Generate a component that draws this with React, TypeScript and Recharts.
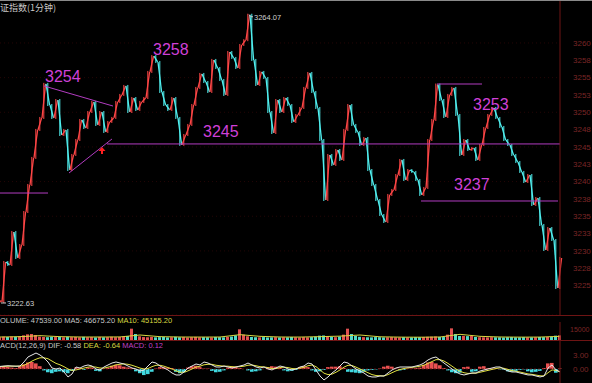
import {
  Bar,
  Cell,
  ComposedChart,
  Line,
  ReferenceDot,
  ReferenceLine,
  XAxis,
  YAxis,
  CartesianGrid,
} from "recharts";

const closes = [
  3222.63, 3228.4, 3227.97, 3232.73, 3228.98, 3230.85, 3235.61, 3239.51, 3243.41, 3247.45,
  3249.18, 3254.1, 3251.05, 3249.18, 3251.77, 3246.72, 3247.45, 3241.67, 3243.84, 3246.0,
  3248.89, 3247.73, 3250.04, 3251.49, 3248.17, 3250.04, 3247.16, 3248.6, 3249.18, 3251.49,
  3252.5, 3253.8, 3250.04, 3252.06, 3250.33, 3251.49, 3252.06, 3255.82, 3258.1, 3257.26,
  3252.93, 3251.05, 3250.33, 3252.06, 3249.18, 3245.3, 3246.72, 3248.17, 3251.05, 3253.51,
  3255.53, 3254.37, 3252.93, 3257.55, 3256.39, 3254.66, 3252.5, 3258.7, 3257.84, 3256.39,
  3259.71, 3260.4, 3264.07, 3257.55, 3253.94, 3255.82, 3254.95, 3250.04, 3247.01, 3251.77,
  3250.04, 3252.06, 3251.05, 3248.6, 3249.61, 3250.62, 3253.51, 3255.67, 3252.93, 3250.62,
  3246.0, 3237.34, 3243.84, 3242.4, 3244.56, 3243.12, 3247.45, 3251.05, 3248.17, 3247.16,
  3245.28, 3246.29, 3241.67, 3239.51, 3237.34, 3235.18, 3234.17, 3238.07, 3238.79, 3240.95,
  3243.12, 3240.23, 3241.67, 3241.39, 3240.23, 3238.07, 3239.08, 3246.0, 3248.89, 3254.0,
  3251.77, 3249.32, 3252.5, 3253.51, 3249.61, 3243.84, 3246.0, 3244.56, 3244.85, 3243.12,
  3245.28, 3247.73, 3249.61, 3250.62, 3249.18, 3247.88, 3246.0, 3245.28, 3243.84, 3242.83,
  3241.39, 3239.94, 3240.95, 3236.62, 3237.63, 3233.74, 3230.13, 3233.3, 3231.57, 3224.65,
  3228.98,
];

const volumes = [
  4000, 5000, 4500, 5200, 4800, 5500, 7000, 8500, 9000, 7500,
  5000, 4500, 4200, 4800, 4400, 4600, 4100, 4900, 4300, 4500,
  4000, 4700, 4200, 4400, 3900, 4600, 4100, 4300, 4800, 4200,
  4500, 5200, 6000, 17000, 9000, 5500, 4400, 4100, 4600, 4000,
  4300, 4500, 3900, 4200, 4700, 4100, 4400, 3800, 4200, 4600,
  4000, 4300, 4100, 3900, 4500, 4200, 4000, 4800, 5200, 7000,
  16000, 8000, 5600, 4500, 4200, 4000, 4400, 3800, 4100, 4300,
  3900, 4200, 4000, 4500, 4100, 3800, 4300, 4000, 4400, 5000,
  6500, 6800, 6000, 4500, 4200, 5200, 8000, 17000, 9000, 6000,
  4800, 4300, 4100, 4000, 4400, 4200, 3900, 4100, 4300, 4000,
  3800, 4200, 4000, 3900, 4300, 4100, 4500, 4800, 5000, 5200,
  4600, 4400, 8000, 17500, 9000, 6000, 6200, 5800, 6000, 4500,
  4200, 4000, 3900, 4300, 4100, 4000, 3800, 4200, 4400, 4000,
  3900, 4300, 4100, 4000, 4200, 4500, 4300, 4600, 4800, 6500,
  7000,
];

// MA5 of volume, read every 5 bars
const volMa = [
  4500, 5000, 6500, 5000, 4500, 4500, 4600, 7500, 5000, 4500,
  4400, 4500, 8000, 5500, 4500, 4400, 5000, 5800, 7500, 4800,
  4300, 4200, 4500, 8500, 5500, 4500, 4300, 4400, 5500,
];

const dif = [
  0.55, 0.64, 0.7, 0.64, 0.6, 0.64, 1.5, 2.57, 3.0, 3.42,
  3.0, 2.35, 1.5, 0.21, 0, 0.21, -0.64, -1.71, -1.07, 0.43,
  0.21, 0.64, 0.86, 0.64, 0, -0.21, 0.43, 0.86, 1.28, 1.5,
  1.28, 1.07, 0.64, 0.21, 0, -0.43, -0.21, 0.64, 1.5, 1.28,
  0.64, 0.21, -0.21, -0.86, -1.28, -1.28, -0.64, 0.21, 0.64, 1.07,
  0.86, 1.5, 1.28, 0.86, 0.43, 0.43, 0.64, 0.43, 0.21, 0.43,
  0.64, 0.86, 1.28, 0.86, 0.43, 0.21, 0.43, 0, -0.21, 0.21,
  0.64, 0.43, 0, -0.21, 0, 0.43, 0.64, 1.28, 1.07, -0.21,
  -1.5, -2.35, -1.71, -0.86, -0.21, 0.64, 1.5, 1.28, 0.64, 0,
  -0.43, -0.86, -1.5, -1.71, -1.71, -1.5, -1.5, -0.86, -0.21, 0.21,
  0.43, 0.43, 0.43, 0.43, 0.64, 0.86, 1.28, 1.93, 2.35, 2.57,
  1.93, 1.28, 0.64, 0, -0.64, -1.07, -1.28, -1.07, -0.86, -0.86,
  -0.43, -0.21, 0, 0.21, 0.43, 0.43, 0, -0.43, -0.64, -0.64,
  -0.86, -1.07, -1.28, -1.28, -1.5, -1.71, -1.5, 0.21, 0.86, -0.21,
  -0.58,
];

const dea = [
  0.5, 0.55, 0.6, 0.6, 0.6, 0.6, 0.8, 1.2, 1.7, 2.1,
  2.4, 2.4, 2.2, 1.7, 1.2, 0.9, 0.5, 0, -0.3, -0.2,
  0, 0.2, 0.4, 0.5, 0.4, 0.2, 0.2, 0.4, 0.6, 0.9,
  1.0, 1.1, 1.0, 0.8, 0.5, 0.2, 0, 0.1, 0.5, 0.8,
  0.8, 0.6, 0.3, 0, -0.4, -0.7, -0.7, -0.4, 0, 0.4,
  0.6, 0.9, 1.0, 1.0, 0.8, 0.7, 0.6, 0.6, 0.5, 0.45,
  0.5, 0.6, 0.8, 0.85, 0.7, 0.5, 0.45, 0.3, 0.1, 0.1,
  0.3, 0.4, 0.3, 0.1, 0.05, 0.2, 0.35, 0.7, 0.85, 0.5,
  -0.2, -0.9, -1.2, -1.1, -0.7, -0.2, 0.4, 0.8, 0.75, 0.4,
  0, -0.4, -0.8, -1.2, -1.4, -1.45, -1.5, -1.2, -0.8, -0.4,
  -0.1, 0.1, 0.25, 0.35, 0.45, 0.6, 0.8, 1.2, 1.6, 2.0,
  2.0, 1.7, 1.2, 0.6, 0, -0.5, -0.8, -0.95, -0.9, -0.9,
  -0.7, -0.5, -0.3, -0.1, 0.1, 0.25, 0.15, -0.1, -0.35, -0.5,
  -0.65, -0.85, -1.05, -1.15, -1.3, -1.45, -1.5, -0.8, -0.2, -0.3,
  -0.64,
];

const hist = [
  0.5, 0.6, 0.5, 0.3, 0.2, 0.6, 1.0, 1.4, 1.5, 1.2,
  0.6, -0.3, -0.7, -0.9, -0.6, -0.5, -0.7, -0.9, -0.4, 0.3,
  0.2, -0.2, 0.3, 0.3, -0.4, -0.5, 0.1, 0.3, 0.7, 0.9,
  0.8, 0.5, 0.3, 0.2, -0.5, -0.9, -1.3, -1.1, -0.6, 0.1,
  0.4, 0.4, 0.3, 0.2, -0.6, -0.9, -0.7, 0.3, 0.6, 0.7,
  0.4, 0.1, 0.1, -0.4, -0.7, -0.6, -0.3, 0.3, 0.5, 0.4,
  0.2, 0, -0.3, -0.6, -0.5, -0.3, 0, 0.4, 0.6, 0.5,
  0.3, -0.3, -0.5, -0.4, -0.2, 0.4, 0.6, 0.4, -0.3, -0.6,
  -0.5, -0.2, 0.4, 0.5, 0.5, 0.6, 0.2, -0.6, -0.7, -0.8,
  -0.9, -0.6, -0.3, -0.2, -0.1, 0.1, 0.5, 0.7, 0.5, 0.1,
  -0.3, -0.2, 0.1, 0.1, 0.2, 0.3, 0.9, 1.4, 1.5, 1.2,
  0.8, 0.2, -0.3, -0.7, -0.9, -0.8, 0.4, 0.5, -0.6, -0.5,
  0.5, 0.6, 0.2, 0.1, 0.1, -0.1, -0.2, -0.5, -0.6, -0.4,
  -0.2, -0.1, -0.5, -0.7, -0.6, -0.4, 0.2, 1.2, 1.3, -0.8,
  0.12,
];

const priceTicks = [
  3225, 3227.5, 3230, 3232.5, 3235, 3237.5, 3240, 3242.5, 3245, 3247.5,
  3250, 3252.5, 3255, 3257.5, 3260,
];

// hand-drawn annotations, in bar index / price units
const trendLines = [
  { from: [11, 3253.8], to: [28.25, 3250.9] },
  { from: [17.25, 3241.24], to: [28, 3246.15] },
  { from: [26.75, 3245.43], to: [140, 3245.43] },
  { from: [0, 3238.35], to: [12, 3238.35] },
  { from: [109.25, 3254.08], to: [120.5, 3254.08] },
  { from: [105.25, 3237.2], to: [139.5, 3237.2] },
];

const notes = [
  { text: "3254", x: 11.25, y: 3254.37 },
  { text: "3258", x: 38.25, y: 3258.27 },
  { text: "3245", x: 50.75, y: 3246.44 },
  { text: "3253", x: 118.25, y: 3250.33 },
  { text: "3237", x: 113.5, y: 3238.79 },
];

const UP = "#ff4646";
const DOWN = "#50f0f0";
const AXIS = "#6e1414";
const TICK = "#7a2626";
const PURPLE = "#b23cc0";
const FONT = "'Liberation Sans', Arial, sans-serif";

const priceData = closes.map((c, i) => {
  const o = i === 0 ? c : closes[i - 1];
  return { i, range: [Math.min(o, c), Math.max(o, c)], up: c >= o };
});
const volData = volumes.map((v, i) => ({ i, v, up: priceData[i].up }));
const volMaData = volMa.map((v, k) => ({ i: k * 5, ma: v }));
const macdData = dif.map((d, i) => ({ i, dif: d, dea: dea[i], hist: hist[i] }));

const W = 592;
const xDomain: [number, number] = [0, 140];

// each minute drawn as a stroke from its open to its close across its slot
function Stroke(p: any) {
  const { x, y, width, height, payload } = p;
  if (x == null || y == null) return null;
  const top = Math.min(y, y + height);
  const bot = Math.max(y, y + height);
  const up = payload.up;
  const y1 = up ? bot : top;
  const y2 = up ? top : bot;
  const c = up ? UP : DOWN;
  return (
    <g>
      <line x1={x} y1={y1} x2={x + width} y2={y2} stroke={c} strokeWidth={1.3} />
      <line x1={x + width / 2} y1={top - 1} x2={x + width / 2} y2={bot + 1} stroke={c} strokeWidth={1} />
    </g>
  );
}

function Arrow(p: any) {
  const { cx, cy } = p;
  return (
    <path
      d={`M${cx},${cy - 4} L${cx + 3.5},${cy} L${cx + 1},${cy} L${cx + 1},${cy + 3} L${cx - 1},${cy + 3} L${cx - 1},${cy} L${cx - 3.5},${cy} Z`}
      fill="#ff2020"
    />
  );
}

export default function App() {
  return (
    <div
      style={{
        position: "absolute",
        left: 0,
        top: 0,
        width: W,
        height: 383,
        background: "#000",
        overflow: "hidden",
        fontFamily: FONT,
      }}
    >
      <div style={{ position: "absolute", left: 0, top: 0 }}>
        <ComposedChart width={W} height={315} data={priceData} margin={{ top: 0, right: 0, left: 0, bottom: 0 }}>
          <CartesianGrid vertical={false} stroke="#240606" strokeDasharray="1 3" />
          <XAxis dataKey="i" type="number" domain={xDomain} hide />
          <YAxis
            orientation="right"
            width={32}
            domain={[3220.75, 3266.2]}
            ticks={priceTicks}
            allowDataOverflow
            tickFormatter={(v: number) => String(Math.round(v))}
            tick={{ fill: TICK, fontSize: 8, fontFamily: FONT }}
            tickLine={false}
            tickSize={6}
            tickMargin={7}
            axisLine={{ stroke: AXIS }}
          />
          {trendLines.map((l, k) => (
            <ReferenceLine
              key={k}
              segment={[
                { x: l.from[0], y: l.from[1] },
                { x: l.to[0], y: l.to[1] },
              ]}
              stroke={PURPLE}
              strokeWidth={1}
              ifOverflow="visible"
            />
          ))}
          <Bar dataKey="range" barSize={4} minPointSize={1} shape={Stroke} isAnimationActive={false} />
          {notes.map((n, k) => (
            <ReferenceDot
              key={k}
              x={n.x}
              y={n.y}
              ifOverflow="visible"
              shape={(p: any) => (
                <text x={p.cx} y={p.cy} fill="#d040d8" fontSize={16} fontFamily={FONT}>
                  {n.text}
                </text>
              )}
            />
          ))}
          <ReferenceDot
            x={62}
            y={3264.07}
            ifOverflow="visible"
            shape={(p: any) => (
              <g>
                <path d={`M${p.cx + 1},${p.cy} L${p.cx + 3},${p.cy + 2} L${p.cx + 5},${p.cy + 2}`} stroke="#ccc" fill="none" />
                <text x={p.cx + 6} y={p.cy + 5} fill="#d0d0d0" fontSize={7.5} fontFamily={FONT}>
                  3264.07
                </text>
              </g>
            )}
          />
          <ReferenceDot
            x={0}
            y={3222.63}
            ifOverflow="visible"
            shape={(p: any) => (
              <g>
                <path d={`M${p.cx + 1},${p.cy + 1} L${p.cx + 6},${p.cy + 1}`} stroke="#ccc" />
                <text x={p.cx + 7} y={p.cy + 4} fill="#d0d0d0" fontSize={7.5} fontFamily={FONT}>
                  3222.63
                </text>
              </g>
            )}
          />
          <ReferenceDot x={25.5} y={3244.42} ifOverflow="visible" shape={Arrow} />
        </ComposedChart>
      </div>

      <div style={{ position: "absolute", left: 0, top: 315 }}>
        <ComposedChart width={W} height={25} data={volData} margin={{ top: 7, right: 0, left: 0, bottom: 0 }}>
          <XAxis dataKey="i" type="number" domain={xDomain} hide />
          <YAxis
            orientation="right"
            width={32}
            domain={[0, 27000]}
            ticks={[15000]}
            tick={{ fill: TICK, fontSize: 7, fontFamily: FONT }}
            tickLine={false}
            tickSize={4}
            tickMargin={6}
            axisLine={{ stroke: AXIS }}
          />
          <Bar dataKey="v" barSize={3} isAnimationActive={false}>
            {volData.map((d, k) => (
              <Cell key={k} fill={d.up ? "#e05050" : "#50d8c8"} />
            ))}
          </Bar>
          <Line data={volMaData} dataKey="ma" stroke="#d8d840" strokeWidth={1} dot={false} isAnimationActive={false} />
        </ComposedChart>
      </div>

      <div style={{ position: "absolute", left: 0, top: 340 }}>
        <ComposedChart width={W} height={43} data={macdData} margin={{ top: 0, right: 0, left: 0, bottom: 0 }}>
          <XAxis dataKey="i" type="number" domain={xDomain} hide />
          <YAxis
            orientation="right"
            width={32}
            domain={[-3, 6.21]}
            ticks={[0, 3]}
            allowDataOverflow
            tickFormatter={(v: number) => v.toFixed(2)}
            tick={{ fill: TICK, fontSize: 8, fontFamily: FONT }}
            tickLine={false}
            tickSize={6}
            tickMargin={7}
            axisLine={{ stroke: AXIS }}
          />
          <ReferenceLine y={0} stroke="#5a1010" strokeDasharray="2 2" />
          <Bar dataKey="hist" barSize={4} isAnimationActive={false}>
            {macdData.map((d, k) => (
              <Cell key={k} fill={d.hist >= 0 ? "#e85050" : "#40d8e0"} />
            ))}
          </Bar>
          <Line dataKey="dea" stroke="#e0e040" strokeWidth={1} dot={false} isAnimationActive={false} />
          <Line dataKey="dif" stroke="#e8e8e8" strokeWidth={1} dot={false} isAnimationActive={false} />
        </ComposedChart>
      </div>

      {/* frame lines */}
      <div style={{ position: "absolute", left: 0, top: 0, width: W, height: 1, background: "#8a8a8a" }} />
      <div style={{ position: "absolute", left: 0, top: 315, width: W, height: 1, background: AXIS }} />
      <div style={{ position: "absolute", left: 0, top: 340, width: W, height: 1, background: AXIS }} />

      {/* panel titles */}
      <div style={{ position: "absolute", left: 0, top: 2, fontSize: 9, color: "#c8c8c8", fontFamily: "'Noto Sans CJK SC', sans-serif", lineHeight: "11px", whiteSpace: "nowrap" }}>
        证指数(1分钟)
      </div>
      <div style={{ position: "absolute", left: 0, top: 316, fontSize: 7.5, lineHeight: "9px", whiteSpace: "nowrap" }}>
        <span style={{ color: "#c8c8c8" }}>OLUME: 47539.00 MA5: 46675.20 </span>
        <span style={{ color: "#d8d840" }}>MA10: 45155.20</span>
      </div>
      <div style={{ position: "absolute", left: 0, top: 341, fontSize: 7.5, lineHeight: "9px", whiteSpace: "nowrap" }}>
        <span style={{ color: "#c8c8c8" }}>ACD(12,26,9) DIF: -0.58 </span>
        <span style={{ color: "#d8d840" }}>DEA: -0.64 </span>
        <span style={{ color: "#c040c8" }}>MACD: 0.12</span>
      </div>
    </div>
  );
}
